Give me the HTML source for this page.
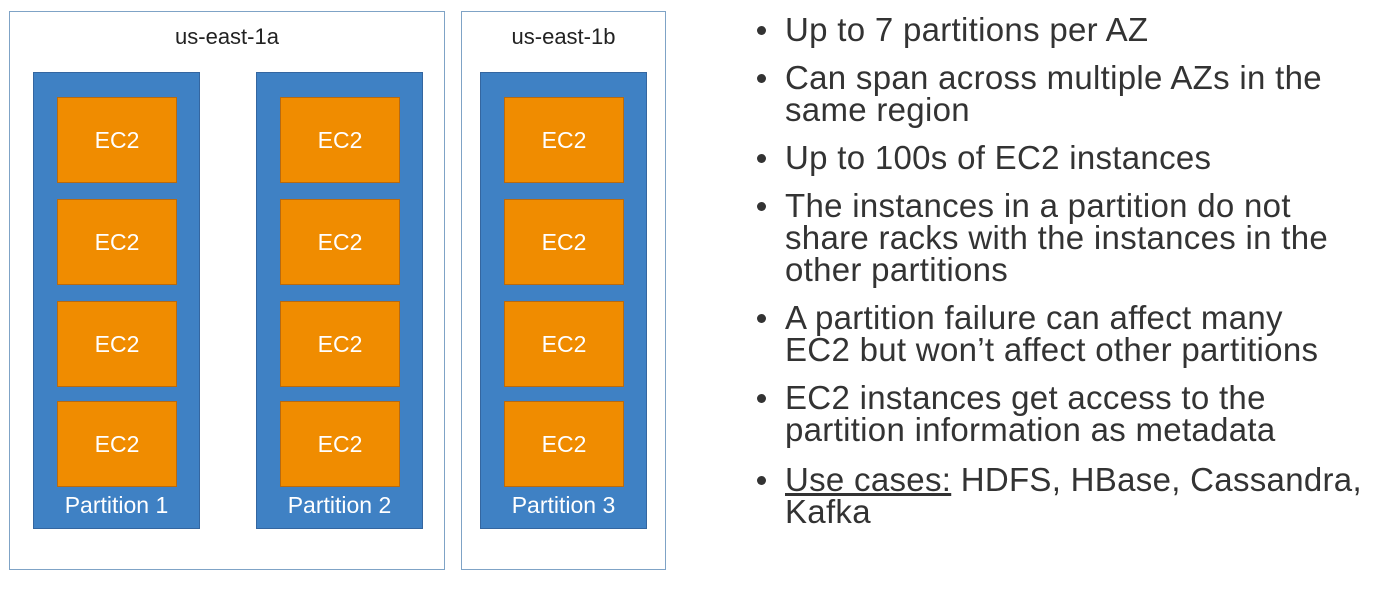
<!DOCTYPE html>
<html><head><style>
body{margin:0;width:1396px;height:589px;background:#fff;position:relative;overflow:hidden;font-family:"Liberation Sans",sans-serif}
.az{position:absolute;border:1.5px solid #7fa3c6;box-sizing:border-box}
.azl{position:absolute;font-size:22px;color:#222;text-align:center}
.p{position:absolute;background:#3f81c4;border:1px solid #3466a0;box-sizing:border-box;width:167px;height:457px;top:72px}
.e{position:absolute;left:23px;width:120px;height:86px;background:#f08c00;border:1px solid #b86a10;box-sizing:border-box;color:#fff;font-size:23px;display:flex;align-items:center;justify-content:center}
.pl{position:absolute;left:0;width:100%;top:419px;text-align:center;color:#fff;font-size:23px}
.t{position:absolute;left:785px;font-size:33px;letter-spacing:0.3px;color:#333;line-height:36px;white-space:nowrap}
.b{position:absolute;left:757px;width:9px;height:9px;border-radius:50%;background:#333}
</style></head><body>
<div class="az" style="left:9px;top:11px;width:436px;height:559px"></div>
<div class="az" style="left:461px;top:11px;width:205px;height:559px"></div>
<div class="azl" style="left:9px;width:436px;top:24px">us-east-1a</div>
<div class="azl" style="left:461px;width:205px;top:24px">us-east-1b</div>

<div class="p" style="left:33px"><div class="e" style="top:24px">EC2</div><div class="e" style="top:126px">EC2</div><div class="e" style="top:228px">EC2</div><div class="e" style="top:328px">EC2</div><div class="pl">Partition 1</div></div>
<div class="p" style="left:256px"><div class="e" style="top:24px">EC2</div><div class="e" style="top:126px">EC2</div><div class="e" style="top:228px">EC2</div><div class="e" style="top:328px">EC2</div><div class="pl">Partition 2</div></div>
<div class="p" style="left:480px"><div class="e" style="top:24px">EC2</div><div class="e" style="top:126px">EC2</div><div class="e" style="top:228px">EC2</div><div class="e" style="top:328px">EC2</div><div class="pl">Partition 3</div></div>

<div class="b" style="top:26px"></div><div class="t" style="top:12px">Up to 7 partitions per AZ</div>
<div class="b" style="top:74px"></div><div class="t" style="top:60px">Can span across multiple AZs in the</div>
<div class="t" style="top:92px">same region</div>
<div class="b" style="top:154px"></div><div class="t" style="top:140px">Up to 100s of EC2 instances</div>
<div class="b" style="top:202px"></div><div class="t" style="top:188px">The instances in a partition do not</div>
<div class="t" style="top:220px">share racks with the instances in the</div>
<div class="t" style="top:252px">other partitions</div>
<div class="b" style="top:314px"></div><div class="t" style="top:300px">A partition failure can affect many</div>
<div class="t" style="top:332px">EC2 but won’t affect other partitions</div>
<div class="b" style="top:394px"></div><div class="t" style="top:380px">EC2 instances get access to the</div>
<div class="t" style="top:412px">partition information as metadata</div>
<div class="b" style="top:476px"></div><div class="t" style="top:462px"><u>Use cases:</u> HDFS, HBase, Cassandra,</div>
<div class="t" style="top:494px">Kafka</div>
</body></html>
